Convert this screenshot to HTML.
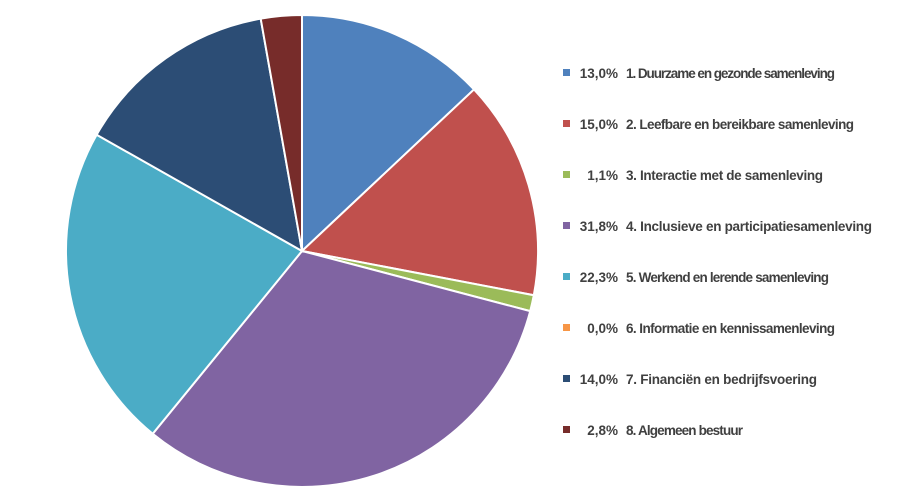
<!DOCTYPE html>
<html><head><meta charset="utf-8"><style>
body{margin:0;background:#fff;width:910px;height:497px;overflow:hidden;font-family:"Liberation Sans",Arial,sans-serif}
</style></head><body>
<svg id="chart" width="910" height="497" xmlns="http://www.w3.org/2000/svg">
<g id="slices"></g>
<g id="legend"></g>
</svg>
<script>
const categories=["1. Duurzame en gezonde samenleving","2. Leefbare en bereikbare samenleving","3. Interactie met de samenleving","4. Inclusieve en participatiesamenleving","5. Werkend en lerende samenleving","6. Informatie en kennissamenleving","7. Financiën en bedrijfsvoering","8. Algemeen bestuur"];
const values=[13.0,15.0,1.1,31.8,22.3,0.0,14.0,2.8];
const labels=["13,0%","15,0%","1,1%","31,8%","22,3%","0,0%","14,0%","2,8%"];
const colors=["#4f81bd","#c0504d","#9bbb59","#8064a2","#4bacc6","#f79646","#2c4d75","#772c2a"];
const NS="http://www.w3.org/2000/svg";
const cx=302,cy=251,r=236;
const total=values.reduce((a,b)=>a+b,0);
const sg=document.getElementById('slices');
let a=0;
values.forEach((v,i)=>{
  if(v<=0)return;
  const a0=a,a1=a+v/total*2*Math.PI;a=a1;
  const x0=cx+r*Math.sin(a0),y0=cy-r*Math.cos(a0),x1=cx+r*Math.sin(a1),y1=cy-r*Math.cos(a1);
  const p=document.createElementNS(NS,'path');
  p.setAttribute('d',`M${cx},${cy}L${x0},${y0}A${r},${r} 0 ${a1-a0>Math.PI?1:0} 1 ${x1},${y1}Z`);
  p.setAttribute('fill',colors[i]);p.setAttribute('stroke','#fff');p.setAttribute('stroke-width','2');
  
  
  sg.appendChild(p);
});
const lg=document.getElementById('legend');
categories.forEach((c,i)=>{
  const y=73+i*51;
  const g=document.createElementNS(NS,'g');
  
  
  const m=document.createElementNS(NS,'rect');
  m.setAttribute('x',563);m.setAttribute('y',y-4);m.setAttribute('width',7);m.setAttribute('height',7);m.setAttribute('fill',colors[i]);
  g.appendChild(m);
  const t1=document.createElementNS(NS,'text');
  t1.setAttribute('x',618);t1.setAttribute('y',y+5);t1.setAttribute('text-anchor','end');
  t1.setAttribute('font-size','13.5');t1.setAttribute('font-weight','bold');t1.setAttribute('fill','#404040');
  t1.textContent=labels[i];g.appendChild(t1);
  const t2=document.createElementNS(NS,'text');
  t2.setAttribute('x',626);t2.setAttribute('y',y+5);
  t2.setAttribute('font-size','13.5');t2.setAttribute('font-weight','bold');t2.setAttribute('fill','#404040');
  t2.setAttribute('textLength',Math.round(c.length*6.15));
  t2.textContent=c;g.appendChild(t2);
  lg.appendChild(g);
});
</script>
</body></html>
